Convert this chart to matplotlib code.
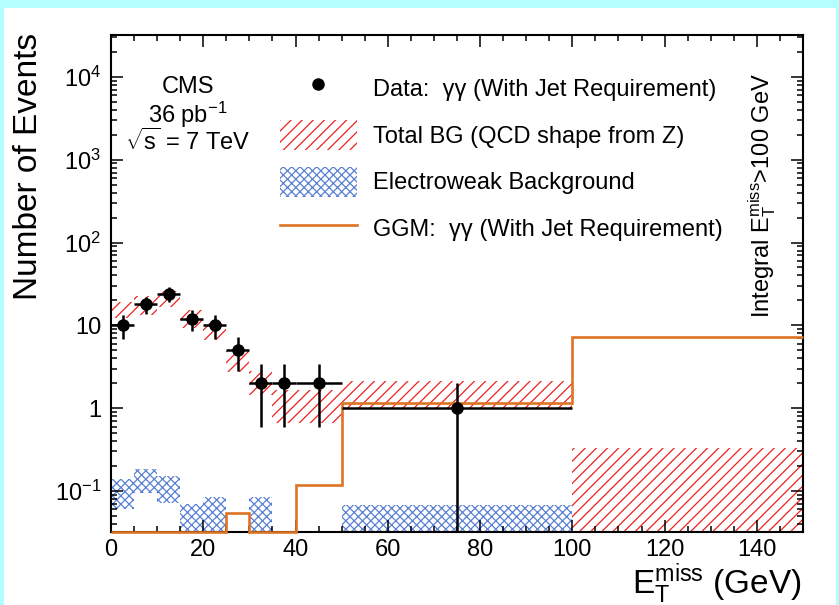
import numpy as np
import matplotlib
matplotlib.use("Agg")
import matplotlib.pyplot as plt
from matplotlib.lines import Line2D
from matplotlib.patches import Patch, Rectangle
from matplotlib.ticker import MultipleLocator, LogLocator, FuncFormatter, NullFormatter

# ---- histogram binning (GeV) ----
edges = [0, 5, 10, 15, 20, 25, 30, 35, 40, 50, 100, 150]

# ---- observed events ----
data_x = [2.5, 7.5, 12.5, 17.5, 22.5, 27.5, 32.5, 37.5, 45.0, 75.0]
data_xerr = [2.5, 2.5, 2.5, 2.5, 2.5, 2.5, 2.5, 2.5, 5.0, 25.0]
data_y = [10, 18, 24, 12, 10, 5, 2, 2, 2, 1]
data_yerr = [3.2, 4.2, 4.9, 3.5, 3.2, 2.2, 1.4, 1.4, 1.4, 1.0]

# ---- total background band (QCD shape from Z), per bin ----
bg_lo = [12.2, 13.4, 16.5, 9.3, 6.7, 2.7, 1.45, 0.67, 0.67, 1.0, 0.0]
bg_hi = [19.1, 22.4, 26.0, 15.5, 10.8, 4.9, 2.8, 1.65, 1.65, 2.15, 0.33]

# ---- electroweak background band, per bin ----
ewk_lo = [0.060, 0.095, 0.072, 0.0, 0.0, 0.0, 0.0, 0.0, 0.0, 0.0, 0.0]
ewk_hi = [0.138, 0.182, 0.151, 0.069, 0.085, 0.0, 0.085, 0.0, 0.0, 0.068, 0.0]

# ---- GGM signal expectation ----
ggm = [0, 0, 0, 0, 0, 0.054, 0, 0, 0.117, 1.14, 7.2]

# ---- y-axis tick labels ----
ytick_vals = [1e-1, 1, 10, 1e2, 1e3, 1e4]
ytick_text = [r"$\mathrm{10^{-1}}$", "1", "10",
              r"$\mathrm{10^{2}}$", r"$\mathrm{10^{3}}$", r"$\mathrm{10^{4}}$"]

plt.rcParams["font.family"] = ["Liberation Sans", "DejaVu Sans"]
plt.rcParams["mathtext.fontset"] = "custom"
plt.rcParams["mathtext.rm"] = "Liberation Sans"
plt.rcParams["mathtext.it"] = "Liberation Sans:italic"
plt.rcParams["mathtext.bf"] = "Liberation Sans:bold"
plt.rcParams["hatch.linewidth"] = 0.9

RED = "#ee2020"
BLUE = "#5a80d2"
ORANGE = "#dd7424"
YMIN, YMAX = 0.032, 3.2e4

fig = plt.figure(figsize=(8.39, 6.05), dpi=100)
fig.patch.set_facecolor("white")
# light cyan frame around the canvas
for (x0, y0, w, h) in [(0, 1 - 8 / 605, 1, 8 / 605), (0, 0, 4 / 839, 1), (1 - 3 / 839, 0, 3 / 839, 1)]:
    fig.add_artist(Rectangle((x0, y0), w, h, transform=fig.transFigure,
                             facecolor="#b3ffff", edgecolor="none", zorder=0))

ax = fig.add_axes([111 / 839, 1 - 532 / 605, 692 / 839, 497 / 605])
ax.set_yscale("log")
ax.set_xlim(0, 150)
ax.set_ylim(YMIN, YMAX)

e = np.asarray(edges, dtype=float)
left = e[:-1]
width = np.diff(e)

# background bands
lo = np.maximum(np.asarray(bg_lo), YMIN * 0.5)
hi = np.asarray(bg_hi)
ax.bar(left, hi - lo, bottom=lo, width=width, align="edge", fill=False,
       hatch="///", edgecolor=RED, linewidth=0, zorder=1)

elo = np.maximum(np.asarray(ewk_lo), YMIN * 0.5)
ehi = np.asarray(ewk_hi)
mask = ehi > 0
ax.bar(left[mask], (ehi - elo)[mask], bottom=elo[mask], width=width[mask], align="edge",
       fill=False, hatch="xxxx", edgecolor=BLUE, linewidth=0, zorder=1)

# signal expectation (empty bins sit on the frame bottom)
g = np.asarray(ggm, dtype=float)
g = np.where(g > 0, g, YMIN)
ax.stairs(g, e, baseline=None, color=ORANGE, linewidth=1.9, zorder=3, clip_on=False)

# data
ax.errorbar(data_x, data_y, xerr=data_xerr, yerr=data_yerr, fmt="o", color="black",
            ms=8, elinewidth=1.8, capsize=0, zorder=4)

# axes styling
for sp in ax.spines.values():
    sp.set_linewidth(1.5)
    sp.set_zorder(2.5)
ax.xaxis.set_major_locator(MultipleLocator(20))
ax.xaxis.set_minor_locator(MultipleLocator(5))
ax.yaxis.set_major_locator(LogLocator(base=10, numticks=20))
ax.yaxis.set_minor_locator(LogLocator(base=10, subs=np.arange(2, 10), numticks=50))
ax.yaxis.set_minor_formatter(NullFormatter())
lab = dict(zip(ytick_vals, ytick_text))


def yfmt(v, pos):
    for k, t in lab.items():
        if abs(v - k) / k < 1e-6:
            return t
    return ""


ax.yaxis.set_major_formatter(FuncFormatter(yfmt))
ax.tick_params(which="both", direction="in", top=True, right=True, width=1.1)
ax.tick_params(which="major", length=8.5, labelsize=17)
ax.tick_params(which="minor", length=4.3)
ax.tick_params(axis="x", pad=5)
ax.tick_params(axis="y", pad=7)

fig.text(29 / 839, 1 - 166 / 605, "Number of Events", rotation=90, ha="center", va="center",
         fontsize=24)
fig.text(802 / 839, 1 - 594 / 605, r"$\mathrm{E_{T}^{miss}}$ (GeV)", ha="right", va="baseline",
         fontsize=24)

# CMS label
ax.text(0.111, 0.896, "CMS", transform=ax.transAxes, ha="center", va="center", fontsize=17)
ax.text(0.111, 0.839, r"36 pb$^{\mathrm{-1}}$", transform=ax.transAxes, ha="center",
        va="center", fontsize=17)
ax.text(0.111, 0.785, r"$\sqrt{\mathrm{s}}$ = 7 TeV", transform=ax.transAxes, ha="center",
        va="center", fontsize=17)

ax.text(0.941, 0.678, r"Integral $\mathrm{E_{T}^{miss}}$>100 GeV", transform=ax.transAxes,
        rotation=90, ha="center", va="center", fontsize=17)

handles = [
    Line2D([], [], marker="o", color="black", ls="none", ms=8),
    Patch(facecolor="none", edgecolor=RED, hatch="///", linewidth=0),
    Patch(facecolor="none", edgecolor=BLUE, hatch="xxxx", linewidth=0),
    Line2D([], [], color=ORANGE, lw=1.9),
]
labels = [
    "Data:  γγ (With Jet Requirement)",
    "Total BG (QCD shape from Z)",
    "Electroweak Background",
    "GGM:  γγ (With Jet Requirement)",
]
ax.legend(handles, labels, loc="upper left", bbox_to_anchor=(0.244, 0.924), frameon=False,
          fontsize=17, borderpad=0, borderaxespad=0, handlelength=3.26, handleheight=1.6,
          handletextpad=0.68, labelspacing=0.70)

fig.savefig("out.png", dpi=100)
